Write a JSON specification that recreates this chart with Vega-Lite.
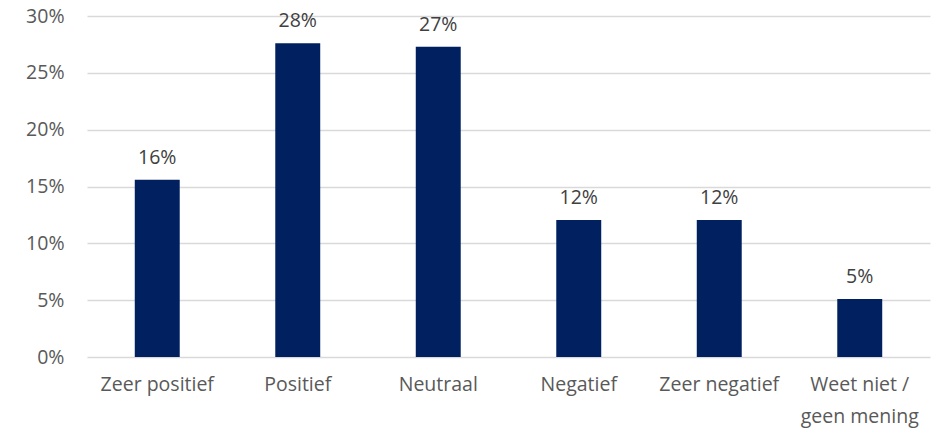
{
  "$schema": "https://vega.github.io/schema/vega-lite/v6.json",
  "autosize": "none",
  "width": 843,
  "height": 341,
  "padding": {"left": 87, "top": 16, "right": 2, "bottom": 75},
  "config": {"view": {"stroke": null}, "font": "Open Sans"},
  "data": {"values": [
    {"cat": "Zeer positief", "v": 0.156, "lbl": "16%"},
    {"cat": "Positief", "v": 0.276, "lbl": "28%"},
    {"cat": "Neutraal", "v": 0.273, "lbl": "27%"},
    {"cat": "Negatief", "v": 0.1205, "lbl": "12%"},
    {"cat": "Zeer negatief", "v": 0.1205, "lbl": "12%"},
    {"cat": "Weet niet / geen mening", "v": 0.051, "lbl": "5%"}
  ]},
  "encoding": {
    "x": {"field": "cat", "type": "nominal", "sort": null,
      "scale": {"paddingInner": 0.68, "paddingOuter": 0.34},
      "axis": {"title": null, "labelAngle": 0, "domain": false, "ticks": false, "grid": false,
        "labelFontSize": 19.5, "labelColor": "#595959", "labelPadding": 18, "labelLineHeight": 32,
        "labelExpr": "datum.label == 'Weet niet / geen mening' ? ['Weet niet /', 'geen mening'] : datum.label"}},
    "y": {"field": "v", "type": "quantitative",
      "scale": {"domain": [0, 0.3]},
      "axis": {"title": null, "format": ".0%", "values": [0, 0.05, 0.1, 0.15, 0.2, 0.25, 0.3],
        "domain": false, "ticks": false, "gridColor": "#d9d9d9", "gridWidth": 1.5,
        "labelFontSize": 19.5, "labelColor": "#595959", "labelPadding": 23}}
  },
  "layer": [
    {"mark": {"type": "bar", "color": "#002060"}},
    {"mark": {"type": "text", "baseline": "bottom", "dy": -12, "fontSize": 19.5, "color": "#404040"},
     "encoding": {"text": {"field": "lbl"}}}
  ]
}
